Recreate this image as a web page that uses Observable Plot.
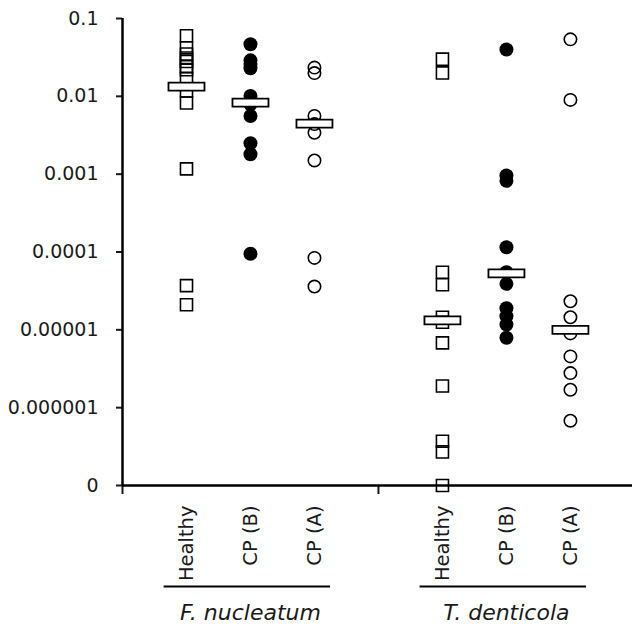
<!DOCTYPE html>
<html>
<head>
<meta charset="utf-8">
<script src="https://cdn.jsdelivr.net/npm/d3@7"></script>
<script src="https://cdn.jsdelivr.net/npm/@observablehq/plot@0.6"></script>
<style>
  html, body { margin: 0; padding: 0; background: #fff; }
  #chart svg { display: block; }
</style>
</head>
<body>
<div id="chart"></div>
<script>
// ---- data (0 is drawn on the "0" line) ----
const groups = ["F. nucleatum", "T. denticola"];
const conditions = ["Healthy", "CP (B)", "CP (A)"];

const fnHealthy = [0.060, 0.042, 0.035, 0.031, 0.028, 0.024, 0.022, 0.017, 0.0117, 0.0082, 0.00117, 0.000037, 0.000021];
const fnCPB     = [0.0466, 0.029, 0.026, 0.023, 0.0101, 0.0079, 0.0056, 0.0025, 0.0018, 0.000095];
const fnCPA     = [0.0234, 0.0199, 0.0056, 0.0044, 0.0034, 0.0015, 0.000084, 0.000036];

const tdHealthy = [0.030, 0.020, 0.000055, 0.000038, 0.0000145, 0.0000125, 0.0000068, 0.0000019, 0.00000037, 0.00000027, 0];
const tdCPB     = [0.040, 0.00096, 0.00082, 0.000115, 0.000055, 0.000039, 0.000019, 0.000015, 0.0000117, 0.0000079];
const tdCPA     = [0.054, 0.0090, 0.0000233, 0.0000145, 0.000009, 0.00000456, 0.00000278, 0.0000017, 0.00000068];

// horizontal bars (group medians), order: F Healthy, F CP(B), F CP(A), T Healthy, T CP(B), T CP(A)
const medians = [0.0133, 0.0083, 0.00447, 0.0000132, 0.000053, 0.0000100];

const yTickValues = [1e-1, 1e-2, 1e-3, 1e-4, 1e-5, 1e-6, 1e-7];
const yTickLabels = ["0.1", "0.01", "0.001", "0.0001", "0.00001", "0.000001", "0"];
const ZERO_POS = 1e-7;

// ---- build tables ----
const seriesByGroup = [[fnHealthy, fnCPB, fnCPA], [tdHealthy, tdCPB, tdCPA]];
const slot = (g, c) => g * 4 + c + 1;

const points = [];
seriesByGroup.forEach((cols, g) => cols.forEach((vals, c) => vals.forEach(v => {
  points.push({group: groups[g], condition: conditions[c], slot: slot(g, c), value: v === 0 ? ZERO_POS : v});
})));

const barRows = [];
groups.forEach((gname, g) => conditions.forEach((cname, c) => {
  barRows.push({group: gname, condition: cname, slot: slot(g, c), value: medians[g * 3 + c]});
}));

const slotLabel = new Map();
groups.forEach((gname, g) => conditions.forEach((cname, c) => slotLabel.set(slot(g, c), cname)));
const groupCenter = new Map(groups.map((gname, g) => [slot(g, 1), gname]));
const yLabel = new Map(yTickValues.map((v, i) => [v, yTickLabels[i]]));

const barSymbol = { draw(ctx) { ctx.rect(-18, -4, 36, 8); } };

const W = 632, H = 630, ML = 122, MT = 18, MB = 145;
const ink = "#1a1a1a";
const font = "DejaVu Sans";

const plot = Plot.plot({
  width: W, height: H,
  marginLeft: ML, marginRight: 0, marginTop: MT, marginBottom: MB,
  style: {fontFamily: font, fontSize: "19px", color: ink, background: "white", overflow: "visible"},
  x: {type: "linear", domain: [0, 7.97], axis: null, label: null},
  y: {type: "log", domain: [ZERO_POS, 0.1], axis: null, label: null},
  marks: [
    Plot.axisY({ticks: yTickValues, tickFormat: d => yLabel.get(d), tickSize: 6, tickPadding: 18,
                strokeWidth: 2, fontSize: 19, label: null}),
    Plot.axisX({ticks: [0, 4], tickSize: 9, tickFormat: () => "", strokeWidth: 2, label: null}),
    Plot.axisX({ticks: [...slotLabel.keys()], tickFormat: d => slotLabel.get(d), tickSize: 0,
                tickPadding: 20, tickRotate: -90, fontSize: 19.5, label: null}),
    Plot.axisX({ticks: [...groupCenter.keys()], tickFormat: d => groupCenter.get(d), tickSize: 0,
                tickPadding: 119, fontSize: 22, fontStyle: "italic", label: null}),
    Plot.dot(points.filter(d => d.condition === "Healthy"),
             {x: "slot", y: "value", symbol: "square", r: 6.8, fill: "none", stroke: "black", strokeWidth: 1.6}),
    Plot.dot(points.filter(d => d.condition === "CP (B)"),
             {x: "slot", y: "value", symbol: "circle", r: 7, fill: "black"}),
    Plot.dot(points.filter(d => d.condition === "CP (A)"),
             {x: "slot", y: "value", symbol: "circle", r: 6.2, fill: "none", stroke: "black", strokeWidth: 1.6}),
    Plot.dot(barRows, {x: "slot", y: "value", symbol: barSymbol, r: 5, fill: "white", stroke: "black", strokeWidth: 1.8}),
    Plot.ruleX([0], {stroke: "black", strokeWidth: 2.5}),
    Plot.ruleY([ZERO_POS], {stroke: "black", strokeWidth: 2.5})
  ]
});

// group underlines below the category labels
const sx = plot.scale("x");
const svg = d3.select(plot);
const underlineY = H - MB + 101.5;
groups.forEach((gname, g) => {
  svg.append("line")
    .attr("x1", sx.apply(slot(g, 0) - 0.35))
    .attr("x2", sx.apply(slot(g, 2) + 0.25))
    .attr("y1", underlineY).attr("y2", underlineY)
    .attr("stroke", "black").attr("stroke-width", 2);
});

document.getElementById("chart").appendChild(plot);
</script>
</body>
</html>
